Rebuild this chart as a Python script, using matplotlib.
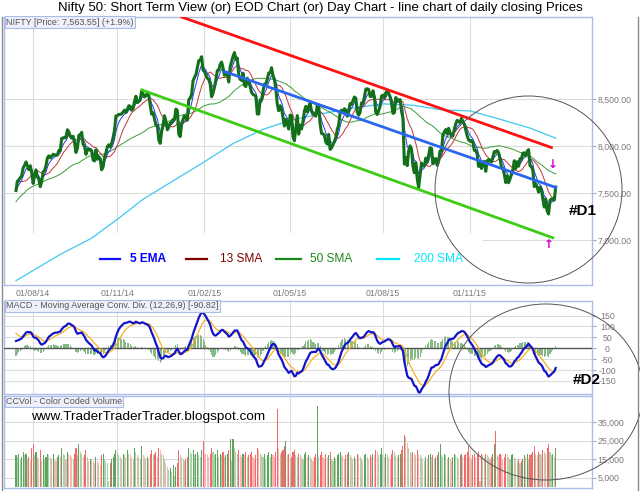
import matplotlib
matplotlib.use('Agg')
import matplotlib.pyplot as plt
import matplotlib.patches as patches
from matplotlib.lines import Line2D
import numpy as np
import pandas as pd

plt.rcParams['font.family'] = ['Liberation Sans', 'DejaVu Sans']

# daily closes before the visible window (only used to warm up the averages)
pre_may14 = [6694, 6638, 6715, 6652, 6659, 6858, 7015, 7109, 7109, 6812, 7203,
             7263, 7276, 7252, 7276, 7367, 7359, 7318, 7329, 7236, 7230]
pre_jun14 = [7362, 7403, 7402, 7474, 7583, 7654, 7656, 7627, 7650, 7542, 7533,
             7559, 7533, 7540, 7512, 7580, 7493, 7569, 7494, 7509, 7611]
pre_jul14 = [7634, 7726, 7715, 7751, 7787, 7623, 7568, 7567, 7460, 7454]

# visible daily closes, one list per month
close_jul14 = [7527, 7625, 7641, 7664, 7684, 7767, 7795, 7831, 7790, 7749, 7791, 7721]
close_aug14 = [7602, 7684, 7747, 7672, 7649, 7568, 7625, 7727, 7739, 7792, 7875, 7897,
               7875, 7891, 7913, 7906, 7905, 7905, 7954]
close_sep14 = [7951, 8083, 8084, 8095, 8087, 8174, 8152, 8105, 8086, 8105, 8042, 7932,
               7975, 8115, 8121, 8147, 8018, 8002, 7912, 7968, 7959, 7965]
close_oct14 = [7945, 7852, 7842, 7961, 7860, 7884, 7864, 7748, 7780, 7879, 7928, 7996,
               8014, 7991, 8028, 8090, 8170, 8322]
close_nov14 = [8324, 8338, 8337, 8345, 8363, 8383, 8358, 8390, 8430, 8425, 8382, 8401,
               8477, 8531, 8463, 8476, 8495, 8588]
close_dec14 = [8556, 8524, 8537, 8564, 8538, 8438, 8340, 8356, 8293, 8224, 8219, 8067,
               8030, 8160, 8225, 8324, 8268, 8174, 8200, 8246, 8248, 8283]
close_jan15 = [8284, 8395, 8378, 8127, 8102, 8235, 8285, 8323, 8299, 8277, 8494, 8513,
               8550, 8696, 8730, 8761, 8836, 8910, 8915, 8952, 8809]
close_feb15 = [8797, 8757, 8723, 8711, 8661, 8526, 8565, 8628, 8711, 8805, 8809, 8869,
               8895, 8834, 8754, 8763, 8767, 8683, 8844, 8901]
close_mar15 = [8956, 8996, 8923, 8938, 8757, 8712, 8699, 8777, 8647, 8634, 8723, 8686,
               8634, 8571, 8551, 8542, 8530, 8342, 8341, 8492, 8491]
close_apr15 = [8586, 8660, 8660, 8714, 8778, 8780, 8835, 8750, 8706, 8607, 8448, 8377,
               8430, 8398, 8305, 8214, 8285, 8240, 8182]
close_may15 = [8331, 8325, 8097, 8057, 8191, 8325, 8127, 8224, 8183, 8263, 8374, 8423,
               8366, 8422, 8458, 8370, 8340, 8335, 8319, 8434]
close_jun15 = [8434, 8237, 8135, 8131, 8114, 8044, 8022, 8125, 7965, 7983, 8014, 8048,
               8092, 8175, 8225, 8353, 8382, 8361, 8398, 8381, 8319, 8369]
close_jul15 = [8453, 8445, 8485, 8523, 8511, 8363, 8329, 8361, 8460, 8455, 8524, 8608,
               8610, 8604, 8530, 8529, 8590, 8522, 8361, 8337, 8376, 8422, 8533]
close_aug15 = [8543, 8516, 8568, 8588, 8565, 8525, 8462, 8349, 8355, 8518, 8477, 8492,
               8495, 8372, 8300, 7809, 7880, 7792, 7949, 8002, 7971]
close_sep15 = [7786, 7717, 7823, 7655, 7559, 7688, 7819, 7789, 7790, 7872, 7829, 7899,
               7982, 7977, 7813, 7846, 7868, 7796, 7843, 7949]
close_oct15 = [7951, 8119, 8152, 8177, 8130, 8190, 8143, 8107, 8108, 8180, 8238, 8275,
               8261, 8252, 8295, 8261, 8233, 8172, 8111, 8066]
close_nov15 = [8051, 8060, 8040, 7955, 7954, 7915, 7784, 7825, 7762, 7807, 7838, 7731,
               7843, 7857, 7849, 7831, 7884, 7942, 7935]
close_dec15 = [7954, 7931, 7864, 7782, 7765, 7701, 7612, 7683, 7610, 7650, 7700, 7750,
               7845, 7762, 7834, 7786, 7866, 7862, 7925, 7928, 7896, 7946]
close_jan16 = [7963, 7791, 7784, 7741, 7569, 7601, 7564, 7510, 7562, 7537, 7438, 7351,
               7436, 7310, 7277, 7422, 7437, 7438, 7425, 7564]

# daily volume in thousands, same months
vol_jul14 = [17, 16, 18, 15, 16, 19, 17, 18, 15, 16, 14, 21]
vol_aug14 = [23, 17, 19, 16, 15, 20, 14, 17, 15, 16, 18, 17, 16, 15, 18, 15, 14, 16, 17]
vol_sep14 = [16, 21, 18, 17, 15, 19, 18, 17, 16, 15, 18, 21, 17, 23, 19, 18, 16, 17, 20, 16, 14, 15]
vol_oct14 = [15, 14, 13, 16, 14, 13, 12, 17, 18, 15, 14, 13, 3, 13, 15, 16, 18, 20]
vol_nov14 = [19, 17, 16, 15, 18, 17, 16, 20, 18, 17, 16, 15, 21, 19, 17, 16, 15, 22]
vol_dec14 = [17, 16, 15, 16, 15, 18, 20, 17, 18, 19, 16, 21, 20, 18, 17, 15, 13, 11, 9, 10, 8, 12]
vol_jan15 = [6, 11, 13, 20, 17, 16, 15, 14, 15, 16, 21, 19, 18, 20, 17, 18, 19, 17, 16, 20, 25]
vol_feb15 = [19, 18, 17, 16, 18, 21, 19, 17, 18, 20, 16, 18, 17, 19, 16, 17, 18, 20, 26, 14]
vol_mar15 = [26, 21, 19, 18, 20, 17, 16, 18, 17, 19, 16, 17, 18, 19, 16, 15, 17, 21, 20, 18, 17]
vol_apr15 = [16, 18, 15, 17, 19, 16, 18, 17, 16, 19, 42, 21, 18, 19, 20, 22, 25, 17, 18]
vol_may15 = [15, 16, 19, 20, 17, 16, 18, 17, 16, 15, 18, 19, 16, 17, 16, 15, 14, 16, 18, 44]
vol_jun15 = [16, 17, 19, 16, 15, 18, 16, 17, 19, 15, 14, 16, 15, 17, 18, 19, 17, 16, 15, 17, 18, 19]
vol_jul15 = [17, 16, 15, 16, 15, 18, 17, 16, 15, 14, 17, 18, 16, 15, 17, 16, 18, 17, 20, 19, 17, 18, 21]
vol_aug15 = [17, 16, 18, 17, 16, 15, 18, 20, 19, 17, 16, 17, 18, 20, 22, 28, 27, 24, 21, 19, 18]
vol_sep15 = [19, 18, 17, 20, 18, 17, 16, 15, 14, 16, 15, 17, 18, 16, 17, 15, 16, 17, 19, 23]
vol_oct15 = [17, 16, 18, 17, 15, 16, 15, 14, 16, 18, 17, 16, 15, 17, 18, 16, 17, 18, 19, 22]
vol_nov15 = [16, 15, 17, 18, 16, 17, 19, 3, 18, 17, 16, 18, 17, 16, 15, 16, 18, 23, 30]
vol_dec15 = [17, 16, 18, 17, 15, 16, 18, 17, 16, 15, 17, 18, 16, 15, 14, 15, 13, 14, 15, 17, 16, 18]
vol_jan16 = [15, 17, 18, 19, 22, 18, 17, 19, 18, 17, 20, 19, 18, 21, 23, 19, 17, 18, 16, 21]

# 200 SMA at each month start (and the last day)
sma200_values = [6567, 6675, 6847, 7020, 7221, 7434, 7639, 7834, 8027, 8178, 8274,
                 8339, 8400, 8450, 8436, 8386, 8375, 8295, 8197, 8085]

# hand drawn trend lines: (day index, price) at both ends
red_trend = ([116, 375], [9375, 7985])
blue_trend = ([146, 378], [8794, 7560])
green_trend = ([88, 376], [8599, 7024])

tick_months = [1, 4, 7, 10, 13, 16]
tick_labels = ['01/08/14', '01/11/14', '01/02/15', '01/05/15', '01/08/15', '01/11/15']
price_ticks = [7000, 7500, 8000, 8500]
macd_ticks = [-150, -100, -50, 0, 50, 100, 150]
vol_ticks = [5, 15, 25, 35]

W, H = 640, 491
BORDER = '#a9bde8'
GRID = '#dcdcdc'
LABEL = '#7a7a7a'

'''
pixel (from top left) to figure fraction
'''
def fx(x):
    return x / W

def fy(y):
    return 1 - y / H

'''
one chart panel between two pixel rows
'''
def addPanel(fig, top, bottom):
    ax = fig.add_axes([fx(4), fy(bottom), (592 - 4) / W, (bottom - top) / H])
    for s in ax.spines.values():
        s.set_color(BORDER)
        s.set_linewidth(1.0)
    ax.yaxis.tick_right()
    ax.tick_params(axis='y', length=3, color='#aaaaaa', labelcolor=LABEL,
                   labelsize=6.3, pad=1)
    ax.tick_params(axis='x', length=0, labelbottom=False)
    ax.grid(True, color=GRID, linewidth=0.8)
    ax.set_axisbelow(True)
    return ax

def panelLabel(fig, x, y, text):
    fig.text(fx(x), fy(y), text, fontsize=6.4, color='#555555', va='center', ha='left',
             bbox=dict(boxstyle='square,pad=0.15', facecolor='#eef0fb', edgecolor=BORDER,
                       linewidth=0.8))


months_close = [close_jul14, close_aug14, close_sep14, close_oct14, close_nov14,
                close_dec14, close_jan15, close_feb15, close_mar15, close_apr15,
                close_may15, close_jun15, close_jul15, close_aug15, close_sep15,
                close_oct15, close_nov15, close_dec15, close_jan16]
months_vol = [vol_jul14, vol_aug14, vol_sep14, vol_oct14, vol_nov14, vol_dec14,
              vol_jan15, vol_feb15, vol_mar15, vol_apr15, vol_may15, vol_jun15,
              vol_jul15, vol_aug15, vol_sep15, vol_oct15, vol_nov15, vol_dec15, vol_jan16]

pre = pre_may14 + pre_jun14 + pre_jul14
shown = sum(months_close, [])
volume = np.array(sum(months_vol, []), dtype=float)
n_pre = len(pre)
n = len(shown)

closes = pd.Series(pre + shown, dtype=float)
ema5 = closes.ewm(span=5, adjust=False).mean().values[n_pre:]
sma13 = closes.rolling(13, min_periods=1).mean().values[n_pre:]
sma50 = closes.rolling(50, min_periods=1).mean().values[n_pre:]
macd = (closes.ewm(span=12, adjust=False).mean() - closes.ewm(span=26, adjust=False).mean())
signal = macd.ewm(span=9, adjust=False).mean()
hist = (macd - signal).values[n_pre:]
macd = macd.values[n_pre:]
signal = signal.values[n_pre:]
price = closes.values[n_pre:]
prev_close = closes.values[n_pre - 1:-1]

days = np.arange(n)
month_starts = np.cumsum([0] + [len(m) for m in months_close])[:-1]
tick_x = [month_starts[m] for m in tick_months]
sma200_x = list(month_starts) + [n - 1]

per_px = (n - 1) / (555.7 - 16)
xlim = (-(16 - 4) * per_px, (592 - 16) * per_px)

fig = plt.figure(figsize=(6.4, 4.91), dpi=100, facecolor='white')

# ---- price panel
ax = addPanel(fig, 17, 285)
ax.set_xlim(*xlim)
ax.set_ylim(6521, 9375)
ax.set_yticks(price_ticks)
ax.set_yticklabels(['{:,.2f}'.format(v) for v in price_ticks])
ax.set_xticks(tick_x)
ax.set_xticklabels(tick_labels)
ax.tick_params(axis='x', labelbottom=True, labelsize=6.3, labelcolor=LABEL, pad=3)
# white legend strip hides the grid
ax.add_patch(patches.Rectangle((0, 0), (483 - 4) / 588, (285 - 233) / 268,
                               transform=ax.transAxes, facecolor='white',
                               edgecolor='none', zorder=1))
ax.plot(sma200_x, sma200_values, color='#3fc8f2', linewidth=0.9, zorder=2)
ax.plot(days, sma50, color='#3c9c3c', linewidth=0.7, zorder=2)
ax.plot(days, sma13, color='#c03838', linewidth=0.7, zorder=3)
ax.plot(days, ema5, color='#3030ff', linewidth=0.7, zorder=3)
ax.plot(days, price, color='#12701a', linewidth=2.2, zorder=4, solid_joinstyle='round')
ax.plot(red_trend[0], red_trend[1], color='#ff1010', linewidth=2.0, zorder=5)
ax.plot(blue_trend[0], blue_trend[1], color='#2a66f0', linewidth=2.0, zorder=5)
ax.plot(green_trend[0], green_trend[1], color='#3ccc14', linewidth=2.0, zorder=5)

# legend row
legend_items = [(100, 120, 130, '5 EMA', '#1010ff', '#0000ff', 'bold'),
                (186, 207, 220, '13 SMA', '#800000', '#800000', 'normal'),
                (276, 301, 310, '50 SMA', '#1a8a1a', '#1a8a1a', 'normal'),
                (377, 399, 414, '200 SMA', '#00e8ff', '#00e8ff', 'normal')]
for x0, x1, xt, txt, lc, tc, wt in legend_items:
    fig.add_artist(Line2D([fx(x0), fx(x1)], [fy(259.3), fy(259.3)], color=lc,
                          linewidth=1.6, transform=fig.transFigure))
    fig.text(fx(xt), fy(259.5), txt, color=tc, fontsize=8.6, fontweight=wt,
             va='center', ha='left')

panelLabel(fig, 6, 22.3, 'NIFTY [Price: 7,563.55] (+1.9%)')

# ---- MACD panel
ax2 = addPanel(fig, 301, 394)
ax2.set_xlim(*xlim)
ax2.set_ylim(-210, 217)
ax2.set_xticks(tick_x)
ax2.set_yticks(macd_ticks)
ax2.set_yticklabels([str(v) for v in macd_ticks])
ax2.tick_params(axis='y', pad=8)
for lab in ax2.get_yticklabels():
    lab.set_horizontalalignment('center')
ax2.bar(days, hist, width=0.75, color='#86ba86', linewidth=0, zorder=2)
ax2.axhline(0, color='#555555', linewidth=1.0, zorder=3)
ax2.plot(days, signal, color='#f5b02a', linewidth=0.9, zorder=4)
ax2.plot(days, macd, color='#1414c8', linewidth=1.6, zorder=5)
panelLabel(fig, 6, 306, 'MACD - Moving Average Conv. Div. (12,26,9) [-90.82]')

# ---- volume panel
ax3 = addPanel(fig, 396, 488)
ax3.set_xlim(*xlim)
ax3.set_ylim(-0.6, 49.2)
ax3.set_xticks(tick_x)
ax3.set_yticks(vol_ticks)
ax3.set_yticklabels(['{:,}'.format(v * 1000) for v in vol_ticks])
up = price >= prev_close
louder = np.r_[True, volume[1:] > volume[:-1]]
colors = []
for u, l in zip(up, louder):
    if u:
        colors.append('#5fa55f' if l else '#a8d2a8')
    else:
        colors.append('#f26a6a' if l else '#f9b4b4')
ax3.bar(days, volume, width=0.75, color=colors, linewidth=0, zorder=2)
panelLabel(fig, 6, 401.5, 'CCVol - Color Coded Volume')
fig.text(fx(31.5), fy(416.7), 'www.TraderTraderTrader.blogspot.com', fontsize=9.7,
         color='black', va='center', ha='left')

# ---- title, marks and circles
fig.text(0.5, fy(8), 'Nifty 50: Short Term View (or) EOD Chart (or) Day Chart - '
         'line chart of daily closing Prices', fontsize=9.5, ha='center', va='center')
fig.add_artist(patches.Ellipse((fx(528.5), fy(189.5)), 187 / W, 187 / H, fill=False,
                               edgecolor='#555555', linewidth=0.7,
                               transform=fig.transFigure))
fig.add_artist(patches.Ellipse((fx(546), fy(392)), 194 / W, 176 / H, fill=False,
                               edgecolor='#555555', linewidth=0.7,
                               transform=fig.transFigure))
fig.text(fx(569), fy(211), '#D1', fontsize=11, fontweight='bold', va='center', ha='left')
fig.text(fx(573), fy(380), '#D2', fontsize=11, fontweight='bold', va='center', ha='left')
fig.text(fx(552.3), fy(165), '\u2193', fontsize=8.5, fontweight='bold', color='#cc00cc',
         va='center', ha='center', family='DejaVu Sans')
fig.text(fx(548.3), fy(244), '\u2191', fontsize=8.5, fontweight='bold', color='#cc00cc',
         va='center', ha='center', family='DejaVu Sans')

# outer frame lines
for x in (1.5, 637.5):
    fig.add_artist(Line2D([fx(x), fx(x)], [fy(17), fy(491)], color='#8a8a8a',
                          linewidth=1.0, transform=fig.transFigure))

fig.savefig('out.png', dpi=100, facecolor='white')
